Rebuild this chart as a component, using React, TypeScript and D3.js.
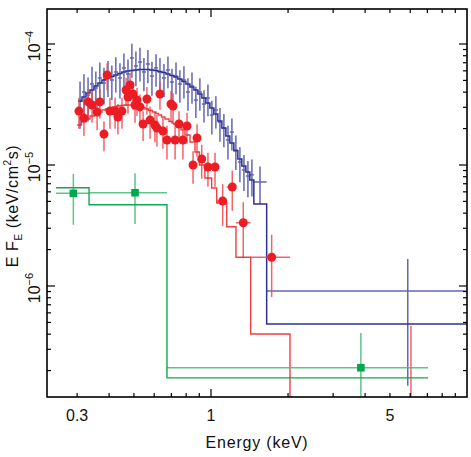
import React from "react";
import * as d3 from "d3";

// ---------- data (keV, keV/cm^2/s) ----------
const blueEdges = [0.3023,0.3134,0.3248,0.3367,0.3490,0.3618,0.3750,0.3888,0.4030,0.4177,0.4330,0.4489,0.4653,0.4823,0.5000,0.5183,0.5373,0.5569,0.5773,0.5985,0.6204,0.6431,0.6666,0.6910,0.7163,0.7425,0.7697,0.7979,0.8271,0.8574,0.8888,0.9213,0.9550,0.9900,1.0262,1.0638,1.1027,1.1431,1.1849,1.2283,1.2733,1.3199,1.3682,1.4183,1.4702,1.650,10];
const blueE = [0.308,0.319,0.331,0.343,0.355,0.368,0.382,0.396,0.410,0.425,0.441,0.457,0.474,0.491,0.509,0.528,0.547,0.567,0.588,0.610,0.632,0.655,0.679,0.704,0.730,0.756,0.784,0.813,0.843,0.873,0.905,0.939,0.973,1.008,1.045,1.084,1.123,1.165,1.207,1.251,1.297,1.345,1.394,1.445,1.554,5.87];
const blueVal = [3.44e-5,4.01e-5,3.79e-5,4.67e-5,4.33e-5,5.24e-5,4.76e-5,5.44e-5,5.04e-5,5.87e-5,5.24e-5,6.34e-5,5.65e-5,7.66e-5,6.58e-5,7.10e-5,5.87e-5,6.84e-5,5.44e-5,6.34e-5,5.87e-5,5.24e-5,6.10e-5,4.85e-5,5.44e-5,4.67e-5,5.04e-5,4.01e-5,4.50e-5,3.44e-5,4.01e-5,3.19e-5,3.58e-5,2.59e-5,2.85e-5,2.26e-5,2.02e-5,1.61e-5,1.87e-5,1.33e-5,1.06e-5,9.09e-6,8.11e-6,8.3e-6,7.24e-6,9.1e-7];
const blueErr = [1.45e-5,1.6e-5,1.5e-5,1.8e-5,1.6e-5,1.8e-5,1.6e-5,1.8e-5,1.6e-5,1.9e-5,1.7e-5,2.0e-5,1.8e-5,2.4e-5,2.1e-5,2.2e-5,1.8e-5,2.1e-5,1.7e-5,1.9e-5,1.8e-5,1.6e-5,1.8e-5,1.4e-5,1.6e-5,1.4e-5,1.5e-5,1.2e-5,1.3e-5,1.0e-5,1.2e-5,0.95e-5,1.05e-5,0.8e-5,0.85e-5,0.7e-5,0.62e-5,0.5e-5,0.55e-5,0.42e-5,3.4e-6,3.0e-6,2.7e-6,2.8e-6,2.5e-6,7.6e-7];
const blueModel = [3.37e-5,3.65e-5,3.94e-5,4.17e-5,4.5e-5,4.76e-5,5.04e-5,5.24e-5,5.39e-5,5.55e-5,5.7e-5,5.87e-5,5.98e-5,6.04e-5,6.1e-5,6.16e-5,6.16e-5,6.16e-5,6.1e-5,6.04e-5,5.93e-5,5.81e-5,5.65e-5,5.49e-5,5.34e-5,5.14e-5,4.9e-5,4.67e-5,4.41e-5,4.17e-5,3.87e-5,3.58e-5,3.26e-5,2.96e-5,2.64e-5,2.31e-5,2.02e-5,1.74e-5,1.52e-5,1.31e-5,1.12e-5,9.8e-6,8.75e-6,7.52e-6,4.76e-6,4.85e-7];

const redEdges = [0.300,0.3119,0.3249,0.3368,0.3507,0.3635,0.3752,0.3872,0.3978,0.4124,0.4275,0.4410,0.4572,0.4697,0.4782,0.4891,0.5002,0.5093,0.5209,0.5352,0.5523,0.5700,0.5908,0.6097,0.6236,0.6406,0.6612,0.6854,0.7041,0.7169,0.7365,0.7634,0.7913,0.8279,0.8660,0.9011,0.9467,1.006,1.053,1.152,1.252,1.429,2.035,10];
const redE = [0.305,0.319,0.331,0.343,0.359,0.368,0.382,0.393,0.403,0.422,0.433,0.449,0.466,0.474,0.483,0.496,0.505,0.514,0.528,0.543,0.562,0.578,0.604,0.615,0.632,0.649,0.673,0.698,0.711,0.724,0.750,0.777,0.806,0.851,0.882,0.920,0.973,1.037,1.111,1.211,1.337,1.726,6.04];
const redVal = [2.79e-5,2.44e-5,3.32e-5,3.13e-5,2.74e-5,3.32e-5,1.80e-5,5.54e-5,2.79e-5,2.79e-5,2.49e-5,2.79e-5,4.17e-5,3.65e-5,4.58e-5,3.86e-5,3.13e-5,3.44e-5,3.02e-5,2.18e-5,3.51e-5,2.35e-5,2.14e-5,2.02e-5,3.86e-5,1.91e-5,1.61e-5,3.19e-5,3.07e-5,1.61e-5,2.18e-5,1.61e-5,2.10e-5,1.0e-5,1.67e-5,1.12e-5,9.62e-6,9.62e-6,5.04e-6,6.58e-6,3.33e-6,1.73e-6,1.0e-7];
const redErr = [0.8e-5,0.7e-5,0.9e-5,0.9e-5,0.8e-5,0.9e-5,0.5e-5,1.4e-5,0.8e-5,0.8e-5,0.7e-5,0.8e-5,1.1e-5,1.0e-5,1.2e-5,1.0e-5,0.9e-5,0.9e-5,0.8e-5,0.6e-5,0.9e-5,0.7e-5,0.6e-5,0.6e-5,1.0e-5,0.55e-5,0.5e-5,0.9e-5,0.85e-5,0.5e-5,0.6e-5,0.5e-5,0.6e-5,0.3e-5,0.5e-5,0.35e-5,3.0e-6,3.0e-6,1.9e-6,2.4e-6,1.6e-6,0.92e-6,3.7e-7];
const redModel = [2.14e-5,2.27e-5,2.40e-5,2.54e-5,2.67e-5,2.74e-5,2.85e-5,2.90e-5,2.96e-5,3.02e-5,3.07e-5,3.10e-5,3.13e-5,3.13e-5,3.13e-5,3.13e-5,3.10e-5,3.07e-5,3.04e-5,2.99e-5,2.90e-5,2.82e-5,2.74e-5,2.67e-5,2.59e-5,2.49e-5,2.40e-5,2.29e-5,2.22e-5,2.16e-5,2.06e-5,1.95e-5,1.77e-5,1.55e-5,1.28e-5,1.0e-5,7.81e-6,6.45e-6,4.85e-6,3.09e-6,1.73e-6,4.01e-7,5e-8];

const greenEdges = [0.248, 0.334, 0.673, 7.04];
const greenE = [0.29, 0.505, 3.85];
const greenVal = [5.83e-6, 5.9e-6, 2.11e-7];
const greenErr = [2.62e-6, 2.65e-6, 1.98e-7];
const greenModel = [6.49e-6, 4.70e-6, 1.74e-7];

const xTickValues = [0.3, 1, 5];
const xTickLabels = ["0.3", "1", "5"];
const yTickExps = [-4, -5, -6];

const X_DOMAIN = [0.2288, 10];
const Y_DOMAIN = [1.21e-7, 1.946e-4];

const BLUE = "#2e3192";
const BLUE_ERR = "#3d419c";
const RED = "#ec1c24";
const RED_ERR = "#ef4a50";
const GREEN = "#0fa850";
const GREEN_ERR = "#4cbf7c";

const FONT = "'Liberation Sans', Arial, Helvetica, sans-serif";

export default function App() {
  const L = 47, R = 467, T = 9, B = 397;
  const x = d3.scaleLog().domain(X_DOMAIN).range([L, R]);
  const y = d3.scaleLog().domain(Y_DOMAIN).range([B, T]);
  const yc = (v: number) => (v <= 0 ? B + 60 : y(v));

  const stepLine = d3
    .line<[number, number]>()
    .x((d) => x(d[0]))
    .y((d) => yc(d[1]))
    .curve(d3.curveStepAfter);

  const modelPath = (edges: number[], vals: number[]) => {
    const pts: [number, number][] = vals.map((v, i) => [edges[i], v]);
    pts.push([edges[edges.length - 1], vals[vals.length - 1]]);
    return stepLine(pts) || "";
  };

  const errBars = (edges: number[], es: number[], vals: number[], errs: number[], color: string, key: string) =>
    vals.map((v, i) => (
      <g key={key + i} stroke={color} strokeWidth={1.5} fill="none">
        <line x1={x(es[i])} x2={x(es[i])} y1={yc(v + errs[i])} y2={yc(v - errs[i])} />
        <line x1={x(edges[i])} x2={x(edges[i + 1])} y1={yc(v)} y2={yc(v)} />
      </g>
    ));

  // ticks
  const xMinor: number[] = [];
  [0.1, 1].forEach((dec) => {
    for (let k = 2; k <= 9; k++) {
      const v = k * dec;
      if (v > X_DOMAIN[0] && v < X_DOMAIN[1]) xMinor.push(v);
    }
  });
  const xMajor = [1];
  const yMinor: number[] = [];
  const yMajor: number[] = [];
  for (let e = -7; e <= -4; e++) {
    for (let k = 1; k <= 9; k++) {
      const v = k * Math.pow(10, e);
      if (v >= Y_DOMAIN[0] && v <= Y_DOMAIN[1]) (k === 1 ? yMajor : yMinor).push(v);
    }
  }
  const tickEls: JSX.Element[] = [];
  const addX = (v: number, len: number, k: string) => {
    tickEls.push(<line key={"xb" + k} x1={x(v)} x2={x(v)} y1={B} y2={B - len} />);
    tickEls.push(<line key={"xt" + k} x1={x(v)} x2={x(v)} y1={T} y2={T + len} />);
  };
  const addY = (v: number, len: number, k: string) => {
    tickEls.push(<line key={"yl" + k} x1={L} x2={L + len} y1={y(v)} y2={y(v)} />);
    tickEls.push(<line key={"yr" + k} x1={R} x2={R - len} y1={y(v)} y2={y(v)} />);
  };
  xMinor.forEach((v, i) => addX(v, 4, "m" + i));
  xMajor.forEach((v, i) => addX(v, 8, "M" + i));
  yMinor.forEach((v, i) => addY(v, 4, "m" + i));
  yMajor.forEach((v, i) => addY(v, 8, "M" + i));

  return (
    <svg
      width={471}
      height={457}
      viewBox="0 0 471 457"
      style={{ position: "absolute", left: 0, top: 0, background: "#fff" }}
      fontFamily={FONT}
    >
      <defs>
        <clipPath id="plotclip">
          <rect x={L} y={T} width={R - L} height={B - T} />
        </clipPath>
      </defs>
      <rect x={0} y={0} width={471} height={457} fill="#fff" />

      <g clipPath="url(#plotclip)">
        {/* blue */}
        <g opacity={0.8}>{errBars(blueEdges, blueE, blueVal, blueErr, BLUE_ERR, "b")}</g>
        <path d={modelPath(blueEdges, blueModel)} fill="none" stroke={BLUE} strokeWidth={1.5} />
        {/* red */}
        <g opacity={0.85}>{errBars(redEdges, redE, redVal, redErr, RED_ERR, "r")}</g>
        <path d={modelPath(redEdges, redModel)} fill="none" stroke={RED} strokeWidth={1.4} opacity={0.85} />
        {redVal.map((v, i) => (
          <circle key={"rc" + i} cx={x(redE[i])} cy={yc(v)} r={4.5} fill={RED} />
        ))}
        {/* green */}
        <g opacity={0.9}>{errBars(greenEdges, greenE, greenVal, greenErr, GREEN_ERR, "g")}</g>
        <path d={modelPath(greenEdges, greenModel)} fill="none" stroke={GREEN} strokeWidth={1.4} />
        {greenVal.map((v, i) => (
          <rect key={"gs" + i} x={x(greenE[i]) - 3.8} y={yc(v) - 3.8} width={7.6} height={7.6} fill="#00a651" />
        ))}
      </g>

      {/* frame */}
      <rect x={L} y={T} width={R - L} height={B - T} fill="none" stroke="#000" strokeWidth={1.6} />
      <g stroke="#000" strokeWidth={1.2}>{tickEls}</g>

      {/* x tick labels */}
      {xTickValues.map((v, i) => (
        <text key={"xl" + i} x={x(v)} y={421} textAnchor="middle" fontSize={16} fill="#111">
          {xTickLabels[i]}
        </text>
      ))}
      <text x={257} y={448} textAnchor="middle" fontSize={16} letterSpacing={0.8} fill="#111">
        Energy (keV)
      </text>

      {/* y tick labels */}
      {yTickExps.map((e, i) => (
        <text
          key={"yl" + i}
          transform={`translate(40,${y(Math.pow(10, e)) + 2}) rotate(-90)`}
          textAnchor="middle"
          fontSize={16}
          fill="#111"
        >
          10
          <tspan fontSize={11} dy={-7}>
            {"\u2212" + Math.abs(e)}
          </tspan>
        </text>
      ))}

      {/* y axis title */}
      <text transform="translate(18,206) rotate(-90)" textAnchor="middle" fontSize={16} letterSpacing={0.6} fill="#111">
        E F
        <tspan fontSize={10} dy={4}>E</tspan>
        <tspan dy={-4}>{" (keV/cm"}</tspan>
        <tspan fontSize={10} dy={-7}>2</tspan>
        <tspan dy={7}>s)</tspan>
      </text>
    </svg>
  );
}
